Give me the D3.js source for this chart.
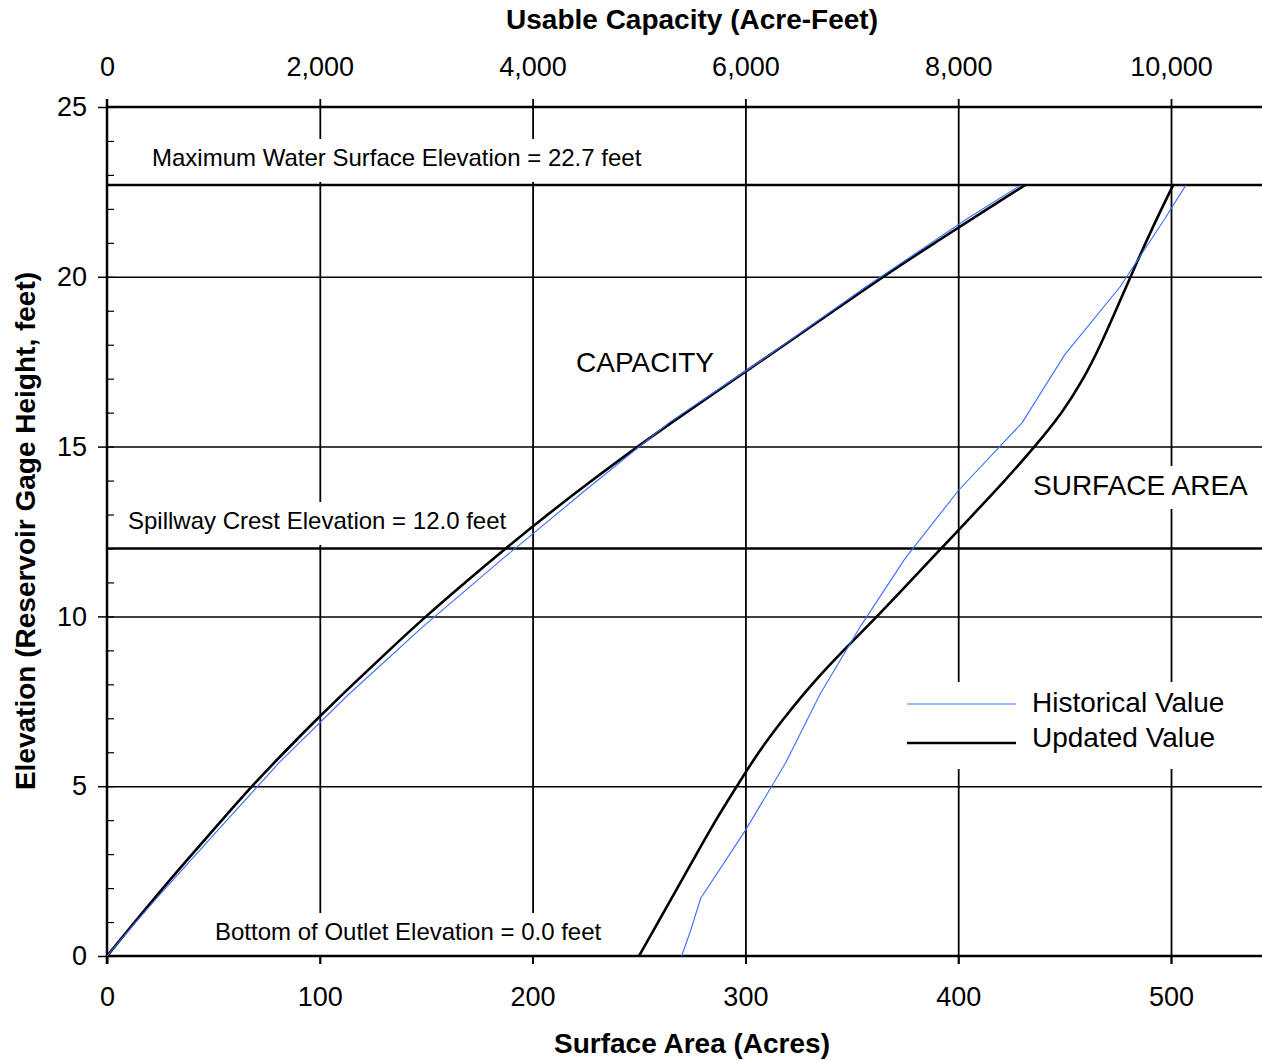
<!DOCTYPE html>
<html>
<head>
<meta charset="utf-8">
<script src="https://cdn.jsdelivr.net/npm/d3@7"></script>
<style>
  body { margin: 0; background: #fff; }
  svg text { font-family: "Liberation Sans", Arial, sans-serif; fill: #000; }
</style>
</head>
<body>
<div id="chart"></div>
<script>
//Data
//Updated values (one point per foot of elevation)
var elevUpdated = [0, 1, 2, 3, 4, 5, 6, 7, 8, 9, 10, 11, 12, 13, 14, 15, 16, 17, 18, 19, 20, 21, 22, 22.7];
var capUpdated = [0, 260, 525, 800, 1080, 1360, 1665, 1980, 2310, 2650, 2995, 3365, 3745, 4140, 4555, 4985, 5440, 5905, 6370, 6830, 7290, 7780, 8275, 8628];
var areaUpdated = [250, 259, 268, 277, 286, 296, 306, 318, 331, 346, 362, 377, 392, 407, 422, 436, 449, 459, 467, 474, 481, 488, 495.5, 501];

//Historical values
var elevHistorical = [0, 0.7, 1.7, 3.7, 5.7, 7.7, 9.7, 11.7, 13.7, 15.7, 17.7, 19.7, 21.7, 22.7];
var capHistorical = [0, 190, 465, 1040, 1620, 2270, 2970, 3720, 4490, 5280, 6225, 7130, 8080, 8587];
var areaHistorical = [270, 274, 279, 300, 319, 335, 354, 375, 400, 430, 450, 476, 497, 507];

//Ticks
var areaTicks = [0, 100, 200, 300, 400, 500];
var capTicks = [0, 2000, 4000, 6000, 8000, 10000];
var elevTicks = [0, 5, 10, 15, 20, 25];
var elevMinorTicks = [0, 1, 2, 3, 4, 5, 6, 7, 8, 9, 10, 11, 12, 13, 14, 15, 16, 17, 18, 19, 20, 21, 22, 23, 24, 25];
var gridElev = [5, 10, 15, 20];

//Reference elevations
var refElev = [22.7, 12.0, 0.0];
var refLabels = ["Maximum Water Surface Elevation = 22.7 feet", "Spillway Crest Elevation = 12.0 feet", "Bottom of Outlet Elevation = 0.0 feet"];

var seriesNames = ["Historical Value", "Updated Value"];
var blue = "#3d6dff";

//---------------------------------------------------------------------------//
//Step 1: chart area
var svgWidth = 1262;
var svgHeight = 1060;
var plot = { left: 107, right: 1262, top: 107, bottom: 956 };

var svg = d3.select("#chart")
    .append("svg")
    .attr("width", svgWidth)
    .attr("height", svgHeight);

//Step 2: scales (area and capacity share the same pixel span)
var xArea = d3.scaleLinear().domain([0, 500]).range([plot.left, 1171]);
var xCap = d3.scaleLinear().domain([0, 10000]).range([plot.left, 1171]);
var y = d3.scaleLinear().domain([0, 25]).range([plot.bottom, plot.top]);

//Step 3: vertical grid lines (stick out above the top line as ticks)
var gridX = svg.append("g")
    .attr("transform", `translate(0, ${plot.top - 8})`)
    .call(d3.axisBottom(xArea).tickValues(areaTicks.slice(1)).tickSize(plot.bottom - plot.top + 16).tickFormat(""));
gridX.select(".domain").remove();
gridX.selectAll("line").attr("stroke", "#000").attr("stroke-width", 1.8);

//Step 4: white boxes behind labels (they cut the vertical grid lines)
var boxLayer = svg.append("g");
var lineLayer = svg.append("g");
var curveLayer = svg.append("g");
var textLayer = svg.append("g");

function addLabel(x, yBase, txt, size, padTop, padBottom) {
    var t = textLayer.append("text")
        .attr("x", x)
        .attr("y", yBase)
        .style("font-size", size + "px")
        .text(txt);
    var bb = t.node().getBBox();
    boxLayer.append("rect")
        .attr("x", bb.x - 8)
        .attr("y", bb.y - padTop)
        .attr("width", bb.width + 16)
        .attr("height", bb.height + padTop + padBottom)
        .attr("fill", "#fff");
}

//Step 5: horizontal grid lines and axes
var gridY = lineLayer.append("g")
    .attr("transform", `translate(${plot.left}, 0)`)
    .call(d3.axisLeft(y).tickValues(gridElev).tickSize(-(plot.right - plot.left)).tickFormat(""));
gridY.select(".domain").remove();
gridY.selectAll("line").attr("stroke", "#000").attr("stroke-width", 1.5);

//top line at 25 ft
lineLayer.append("line")
    .attr("x1", plot.left).attr("x2", plot.right)
    .attr("y1", y(25)).attr("y2", y(25))
    .attr("stroke", "#000").attr("stroke-width", 2.5);

//reference elevation lines
lineLayer.selectAll(".ref")
    .data(refElev.slice(0, 2))
    .enter()
    .append("line")
    .attr("class", "ref")
    .attr("x1", plot.left).attr("x2", plot.right)
    .attr("y1", d => y(d)).attr("y2", d => y(d))
    .attr("stroke", "#000").attr("stroke-width", 2.5);

//bottom axis: ticks + labels
var bottomAxis = lineLayer.append("g")
    .attr("transform", `translate(0, ${plot.bottom})`)
    .call(d3.axisBottom(xArea).tickValues(areaTicks).tickSize(8).tickPadding(23));
bottomAxis.select(".domain").remove();
bottomAxis.selectAll("line").attr("stroke", "#000").attr("stroke-width", 1.8);
bottomAxis.selectAll("text").style("font-size", "27px").style("font-family", "Liberation Sans, Arial, sans-serif").attr("fill", "#000");

lineLayer.append("line")
    .attr("x1", plot.left).attr("x2", plot.right)
    .attr("y1", plot.bottom).attr("y2", plot.bottom)
    .attr("stroke", "#000").attr("stroke-width", 2.5);

//top axis: labels for capacity
var topAxis = lineLayer.append("g")
    .attr("transform", `translate(0, ${plot.top})`)
    .call(d3.axisTop(xCap).tickValues(capTicks).tickSize(0).tickPadding(31).tickFormat(d3.format(",")));
topAxis.select(".domain").remove();
topAxis.selectAll("text").style("font-size", "27px").style("font-family", "Liberation Sans, Arial, sans-serif").attr("fill", "#000");

//left axis: major ticks outside, minor ticks inside
var leftAxis = lineLayer.append("g")
    .attr("transform", `translate(${plot.left}, 0)`)
    .call(d3.axisLeft(y).tickValues(elevTicks).tickSize(9).tickPadding(11));
leftAxis.select(".domain").remove();
leftAxis.selectAll("line").attr("stroke", "#000").attr("stroke-width", 1.5);
leftAxis.selectAll("text").style("font-size", "27px").style("font-family", "Liberation Sans, Arial, sans-serif").attr("fill", "#000");

var minorAxis = lineLayer.append("g")
    .attr("transform", `translate(${plot.left}, 0)`)
    .call(d3.axisRight(y).tickValues(elevMinorTicks).tickSize(7).tickFormat(""));
minorAxis.select(".domain").remove();
minorAxis.selectAll("line").attr("stroke", "#000").attr("stroke-width", 1.2);

lineLayer.append("line")
    .attr("x1", plot.left).attr("x2", plot.left)
    .attr("y1", plot.top - 8).attr("y2", plot.bottom + 8)
    .attr("stroke", "#000").attr("stroke-width", 2.5);

//Step 6: curves
var updated = elevUpdated.map((e, i) => ({ e: e, cap: capUpdated[i], area: areaUpdated[i] }));
var historical = elevHistorical.map((e, i) => ({ e: e, cap: capHistorical[i], area: areaHistorical[i] }));

var capLine = d3.line().x(d => xCap(d.cap)).y(d => y(d.e));
var areaLine = d3.line().x(d => xArea(d.area)).y(d => y(d.e));

curveLayer.append("path")
    .datum(updated)
    .attr("d", capLine.curve(d3.curveBasis))
    .attr("fill", "none").attr("stroke", "#000").attr("stroke-width", 2.6);
curveLayer.append("path")
    .datum(updated)
    .attr("d", areaLine.curve(d3.curveBasis))
    .attr("fill", "none").attr("stroke", "#000").attr("stroke-width", 2.6);

curveLayer.append("path")
    .datum(historical)
    .attr("d", capLine.curve(d3.curveLinear))
    .attr("fill", "none").attr("stroke", blue).attr("stroke-width", 1.1);
curveLayer.append("path")
    .datum(historical)
    .attr("d", areaLine.curve(d3.curveLinear))
    .attr("fill", "none").attr("stroke", blue).attr("stroke-width", 1.1);

//Step 7: annotations
addLabel(152, 166, refLabels[0], 24, 5, 11);
addLabel(128, 529, refLabels[1], 24, 5, 11);
addLabel(215, 940, refLabels[2], 24, 5, 10);
addLabel(576, 372, "CAPACITY", 28, 4, 8);
addLabel(1033, 495, "SURFACE AREA", 28, 4, 8);

//legend
boxLayer.append("rect")
    .attr("x", 895).attr("y", 682)
    .attr("width", 350).attr("height", 87)
    .attr("fill", "#fff");

var legendY = [704, 743];
var legendStyle = [{ stroke: blue, w: 1.1 }, { stroke: "#000", w: 2.6 }];
seriesNames.forEach(function(name, i) {
    textLayer.append("line")
        .attr("x1", 907).attr("x2", 1016)
        .attr("y1", legendY[i]).attr("y2", legendY[i])
        .attr("stroke", legendStyle[i].stroke)
        .attr("stroke-width", legendStyle[i].w);
    textLayer.append("text")
        .attr("x", 1032)
        .attr("y", [712, 747][i])
        .style("font-size", "28px")
        .text(name);
});

//Step 8: axis titles
textLayer.append("text")
    .attr("x", 692).attr("y", 29)
    .attr("text-anchor", "middle")
    .style("font-size", "28px").style("font-weight", "bold")
    .text("Usable Capacity (Acre-Feet)");

textLayer.append("text")
    .attr("x", 692).attr("y", 1053)
    .attr("text-anchor", "middle")
    .style("font-size", "28px").style("font-weight", "bold")
    .text("Surface Area (Acres)");

textLayer.append("text")
    .attr("transform", "translate(35, 531) rotate(-90)")
    .attr("text-anchor", "middle")
    .style("font-size", "28px").style("font-weight", "bold")
    .text("Elevation (Reservoir Gage Height, feet)");
</script>
</body>
</html>
